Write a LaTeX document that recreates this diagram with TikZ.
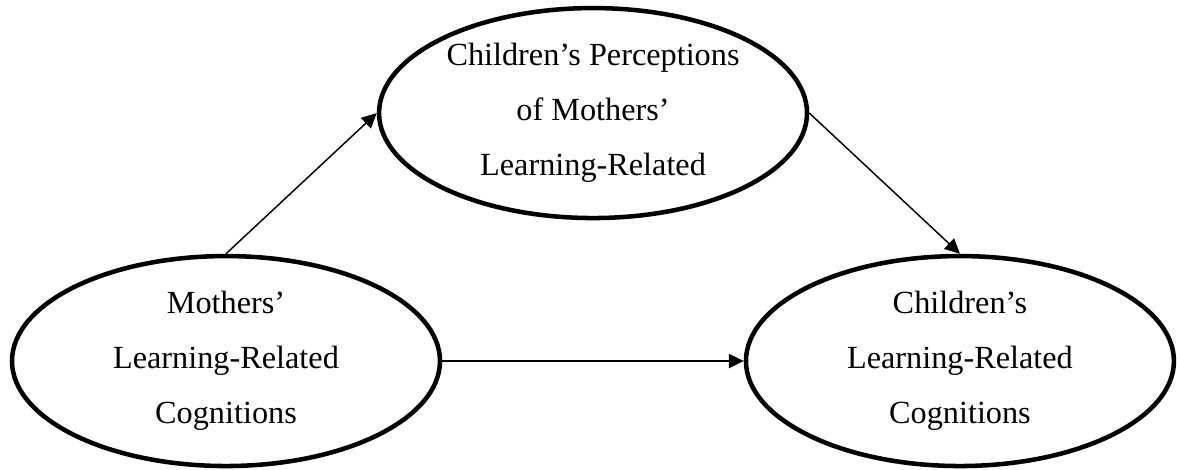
\documentclass[tikz,border=0pt]{standalone}
\usepackage{fontspec}
\setmainfont{Liberation Serif}
\usetikzlibrary{shapes.geometric,arrows.meta,positioning}

\begin{document}
\begin{tikzpicture}[
  font=\fontsize{12.1pt}{20.6pt}\selectfont,
  latent/.style={ellipse,draw=black,line width=1.7pt,align=center,inner sep=0pt,minimum width=160.5pt,minimum height=78.75pt},
  arr/.style={-{Triangle[length=5.6pt,width=5.4pt]},black,line width=0.55pt}
]
\useasboundingbox (0pt,0pt) rectangle (441.4pt,-176.25pt);
% predictor
\node[latent] (mom) at (84.75pt,-135.4pt) {Mothers'\\Learning-Related\\Cognitions};
% mediator
\node[latent] (perc) at (222.4pt,-42.4pt) {Children's Perceptions\\of Mothers'\\Learning-Related};
% outcome
\node[latent] (child) at (360pt,-135.4pt) {Children's\\Learning-Related\\Cognitions};

\draw[arr] (mom.north) -- (perc.west);
\draw[arr] (perc.east) -- (child.north);
\draw[arr] (mom.east) -- (child.west);
\end{tikzpicture}
\end{document}
